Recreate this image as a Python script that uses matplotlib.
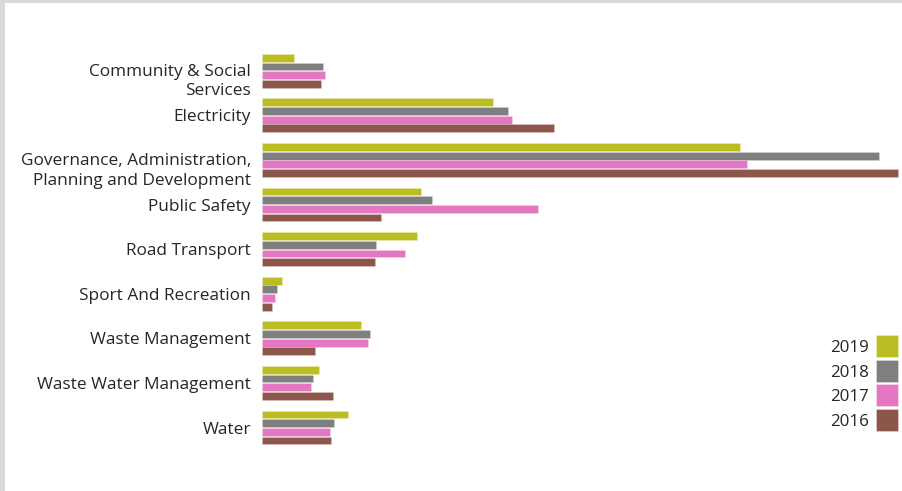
import matplotlib
matplotlib.use("Agg")
import matplotlib.pyplot as plt
from matplotlib.patches import Rectangle
from matplotlib.transforms import ScaledTranslation
import numpy as np

plt.rcParams['font.family'] = ['Open Sans', 'DejaVu Sans']

categories = [
    "Community & Social\nServices",
    "Electricity",
    "Governance, Administration,\nPlanning and Development",
    "Public Safety",
    "Road Transport",
    "Sport And Recreation",
    "Waste Management",
    "Waste Water Management",
    "Water",
]
years = ["2019", "2018", "2017", "2016"]
values_2019 = [32, 231, 478, 159, 155, 20, 99, 57, 86]
values_2018 = [61, 246, 617, 170, 114, 15, 108, 51, 72]
values_2017 = [63, 250, 485, 276, 143, 13, 106, 49, 68]
values_2016 = [59, 292, 636, 119, 113, 10, 53, 71, 69]
series = [values_2019, values_2018, values_2017, values_2016]
colors = ["#bcbd22", "#7f7f7f", "#e377c2", "#8c564b"]

W, H = 903, 491
fig = plt.figure(figsize=(W / 100, H / 100), dpi=100)
fig.patch.set_facecolor("white")

# light frame along the top and left edges
fig.patches.append(Rectangle((0, 1 - 3 / H), 1, 3 / H, transform=fig.transFigure,
                             facecolor="#d9d9d9", edgecolor="none", zorder=0))
fig.patches.append(Rectangle((0, 0), 5 / W, 1, transform=fig.transFigure,
                             facecolor="#d9d9d9", edgecolor="none", zorder=0))

ax = fig.add_axes([262 / W, 36.7 / H, 640 / W, 410.3 / H])
y = np.arange(len(categories))
slot = 0.195
height = 0.175
for k, (vals, c, yr) in enumerate(zip(series, colors, years)):
    offs = (k - 1.5) * slot
    ax.barh(y + offs, vals, height=height, color=c, label=yr,
            edgecolor=(1, 1, 1, 0.25), linewidth=0.5)

ax.set_xlim(0, 640)
ax.set_ylim(8.6, -0.6)
ax.set_yticks(y)
ax.set_yticklabels(categories, fontsize=12.4, color="#262626", linespacing=1.3)
ax.tick_params(axis="y", length=0, pad=8)
ax.set_xticks([])
for s in ax.spines.values():
    s.set_visible(False)

# wrapped labels hang from their tick: first line sits on the group centre
for lab in ax.get_yticklabels():
    if "\n" in lab.get_text():
        lab.set_verticalalignment("top")
        lab.set_transform(lab.get_transform() +
                          ScaledTranslation(0, 5 / 72, fig.dpi_scale_trans))

# legend: year labels to the left of square swatches
sq = 22
for i, (yr, c) in enumerate(zip(years, colors)):
    top = 335 + i * 24.7
    fig.patches.append(Rectangle((876 / W, 1 - (top + sq) / H), sq / W, sq / H,
                                 transform=fig.transFigure, facecolor=c,
                                 edgecolor=(1, 1, 1, 0.4), linewidth=0.5))
    fig.text(869 / W, 1 - (top + sq / 2) / H, yr, ha="right", va="center_baseline",
             fontsize=12.2, color="#262626")

fig.savefig("out.png", dpi=100, facecolor="white")
